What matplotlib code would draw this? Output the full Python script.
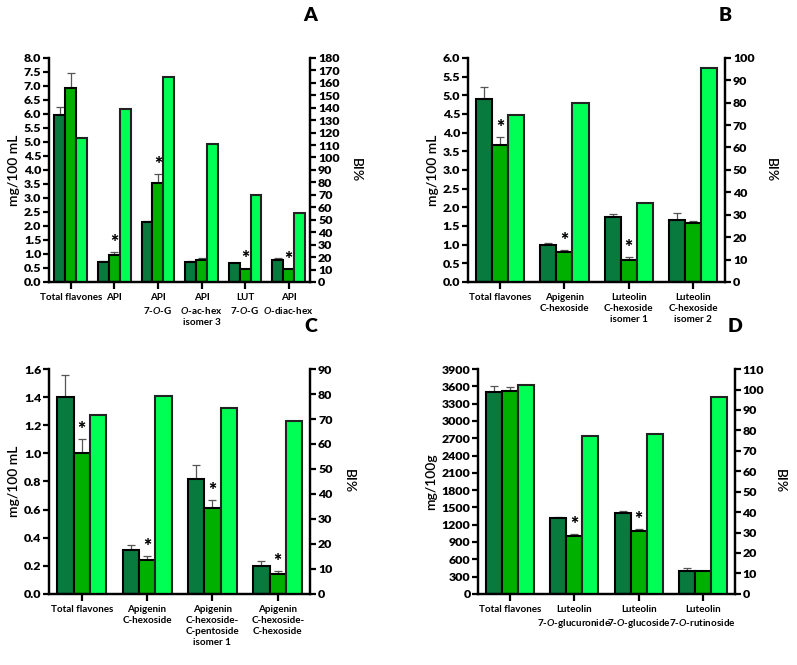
import matplotlib
matplotlib.use("Agg")
import matplotlib.pyplot as plt
import numpy as np

plt.rcParams['font.family'] = ['Lato', 'DejaVu Sans']
plt.rcParams['mathtext.fontset'] = 'custom'
plt.rcParams['mathtext.it'] = 'Lato:italic:semibold'
plt.rcParams['mathtext.rm'] = 'Lato'

DARK = '#087a3e'
MID = '#00b000'
LIGHT = '#00ff55'

# ---- panel A
a_labels = ["Total flavones", "API", "API\n7-$\\mathit{O}$-G", "API\n$\\mathit{O}$-ac-hex\nisomer 3",
            "LUT\n7-$\\mathit{O}$-G", "API\n$\\mathit{O}$-diac-hex"]
a_before = [5.97, 0.70, 2.13, 0.72, 0.66, 0.80]
a_before_err = [0.26, 0.05, 0.03, 0.03, 0.03, 0.06]
a_after = [6.92, 0.98, 3.54, 0.80, 0.46, 0.45]
a_after_err = [0.53, 0.10, 0.30, 0.06, 0.02, 0.02]
a_bi = [115.5, 139, 165, 111, 70, 55]
a_star = [False, True, True, False, True, True]

# ---- panel B
b_labels = ["Total flavones", "Apigenin\nC-hexoside", "Luteolin\nC-hexoside\nisomer 1",
            "Luteolin\nC-hexoside\nisomer 2"]
b_before = [4.91, 1.00, 1.73, 1.65]
b_before_err = [0.31, 0.03, 0.10, 0.20]
b_after = [3.66, 0.81, 0.60, 1.59]
b_after_err = [0.23, 0.05, 0.07, 0.03]
b_bi = [74.4, 80, 35.2, 95.6]
b_star = [True, True, True, False]

# ---- panel C
c_labels = ["Total flavones", "Apigenin\nC-hexoside", "Apigenin\nC-hexoside-\nC-pentoside\nisomer 1",
            "Apigenin\nC-hexoside-\nC-hexoside"]
c_before = [1.40, 0.31, 0.82, 0.20]
c_before_err = [0.16, 0.035, 0.10, 0.035]
c_after = [1.00, 0.24, 0.61, 0.14]
c_after_err = [0.10, 0.03, 0.06, 0.02]
c_bi = [71.7, 79.3, 74.4, 69.3]
c_star = [True, True, True, True]

# ---- panel D
d_labels = ["Total flavones", "Luteolin\n7-$\\mathit{O}$-glucuronide", "Luteolin\n7-$\\mathit{O}$-glucoside",
            "Luteolin\n7-$\\mathit{O}$-rutinoside"]
d_before = [3507, 1308, 1400, 405]
d_before_err = [104, 34, 30, 40]
d_after = [3524, 1007, 1094, 388]
d_after_err = [58, 23, 29, 17]
d_bi = [102, 77.4, 78.3, 96.1]
d_star = [False, True, True, False]


def panel(rect, letter, labels, before, before_err, after, after_err, bi, star,
          ylim, ystep, yfmt, ylabel, bilim):
    ax = fig.add_axes(rect)
    ax2 = ax.twinx()
    x = np.arange(len(labels))
    w = 0.25
    ax.bar(x - w, before, w, color=DARK, edgecolor='black', linewidth=1.5, zorder=2)
    ax.bar(x, after, w, color=MID, edgecolor='black', linewidth=1.5, zorder=2)
    ax2.bar(x + w, bi, w, color=LIGHT, edgecolor='#222222', linewidth=1.5, zorder=2)
    ax.errorbar(x - w, before, yerr=[np.zeros(len(x)), before_err], fmt='none',
                ecolor='#555555', elinewidth=0.9, capsize=3, capthick=0.9, zorder=1)
    ax.errorbar(x, after, yerr=[np.zeros(len(x)), after_err], fmt='none',
                ecolor='#555555', elinewidth=0.9, capsize=3, capthick=0.9, zorder=1)
    span = ylim[1] - ylim[0]
    for i, s in enumerate(star):
        if s:
            ax.text(x[i], after[i] + after_err[i] + span * 0.005, '*', ha='center', va='bottom',
                    fontsize=14, fontweight='heavy')

    ax.set_xlim(-0.5, len(labels) - 0.5)
    ax.set_ylim(*ylim)
    ax2.set_ylim(*bilim)
    yt = np.arange(ylim[0], ylim[1] + ystep / 2, ystep)
    ax.set_yticks(yt)
    ax.set_yticklabels([yfmt.format(v) for v in yt], fontsize=8.9, fontweight='heavy')
    bt = np.arange(0, bilim[1] + 5, 10)
    ax2.set_yticks(bt)
    ax2.set_yticklabels([str(int(v)) for v in bt], fontsize=8.9, fontweight='heavy')
    ax.set_xticks(x)
    ax.set_xticklabels(labels, fontsize=7.1, fontweight='bold', linespacing=1.3)
    ax.set_ylabel(ylabel, fontsize=10, fontweight='semibold', labelpad=3)
    ax2.set_ylabel('BI%', fontsize=10, fontweight='semibold', rotation=-90, labelpad=16)

    for a in (ax, ax2):
        a.spines['top'].set_visible(False)
        for sp in ('left', 'right', 'bottom'):
            a.spines[sp].set_linewidth(1.6)
        a.tick_params(axis='both', width=1.6, length=4, pad=1.5)
    ax.tick_params(axis='x', length=5, pad=3)
    ax.text(1.0, 1.19, letter, transform=ax.transAxes, ha='center', va='center',
            fontsize=14, fontweight='heavy')
    return ax


fig = plt.figure(figsize=(7.97, 6.65), dpi=100)

panel([0.0615, 0.576, 0.328, 0.337], 'A', a_labels, a_before, a_before_err, a_after, a_after_err,
      a_bi, a_star, (0, 8), 0.5, '{:.1f}', 'mg/100 mL', (0, 180))
panel([0.587, 0.576, 0.323, 0.337], 'B', b_labels, b_before, b_before_err, b_after, b_after_err,
      b_bi, b_star, (0, 6), 0.5, '{:.1f}', 'mg/100 mL', (0, 100))
panel([0.0615, 0.107, 0.328, 0.338], 'C', c_labels, c_before, c_before_err, c_after, c_after_err,
      c_bi, c_star, (0, 1.6), 0.2, '{:.1f}', 'mg/100 mL', (0, 90))
panel([0.600, 0.107, 0.322, 0.338], 'D', d_labels, d_before, d_before_err, d_after, d_after_err,
      d_bi, d_star, (0, 3900), 300, '{:.0f}', 'mg/100g', (0, 110))

fig.savefig('out.png', dpi=100)
